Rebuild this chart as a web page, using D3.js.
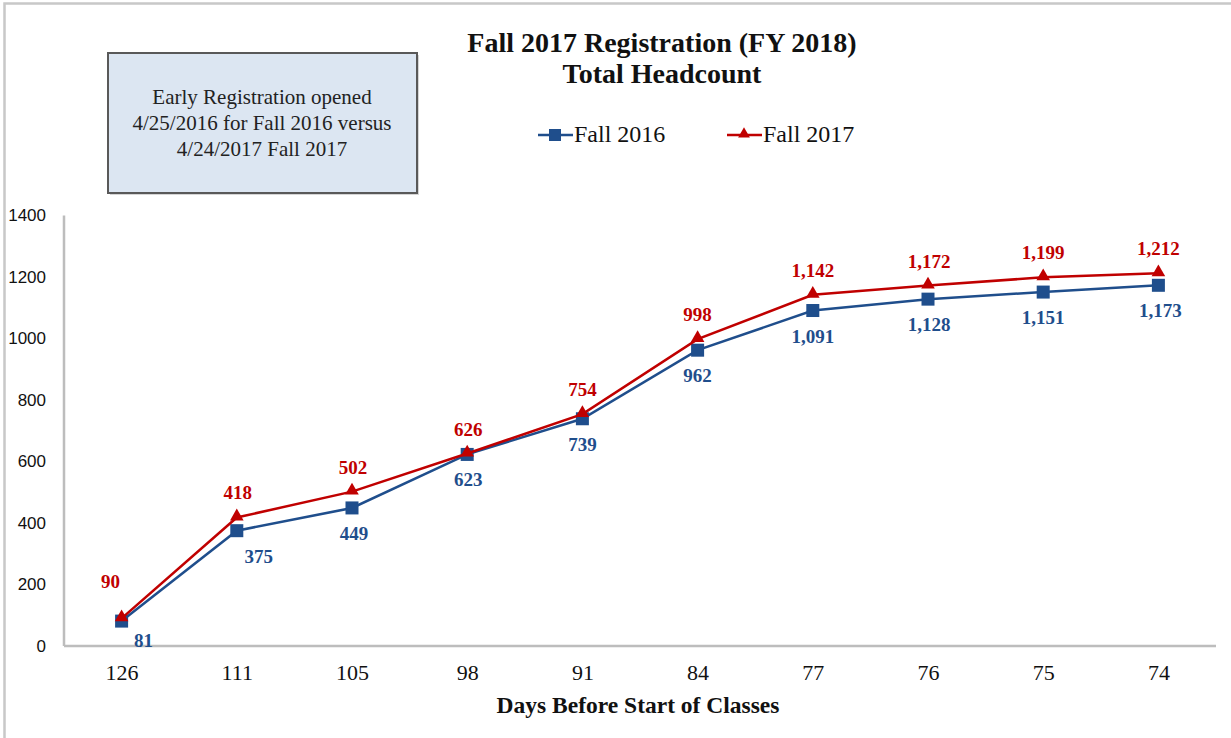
<!DOCTYPE html>
<html>
<head>
<meta charset="utf-8">
<script src="https://cdn.jsdelivr.net/npm/d3@7"></script>
<style>
  body { margin: 0; background: #fff; }
  text { font-family: "Liberation Serif", "Times New Roman", serif; }
</style>
</head>
<body>
<svg id="chart" width="1231" height="738"></svg>
<script>
// data
var days = ["126", "111", "105", "98", "91", "84", "77", "76", "75", "74"];
var fall2016 = [81, 375, 449, 623, 739, 962, 1091, 1128, 1151, 1173];
var fall2017 = [90, 418, 502, 626, 754, 998, 1142, 1172, 1199, 1212];
var yTicks = [0, 200, 400, 600, 800, 1000, 1200, 1400];

var blue = "#1f4e8c", red = "#c00000";

var svg = d3.select("#chart");
var margin = {top: 215.5, left: 64, right: 15, bottom: 92};
var width = 1231 - margin.left - margin.right,
    height = 738 - margin.top - margin.bottom;

// frame (only top and left visible)
svg.append("path")
  .attr("d", "M4.5,738 V3.5 H1231")
  .attr("fill", "none").attr("stroke", "#c8c8c8").attr("stroke-width", 2.5);

// title
var title = svg.append("text").attr("text-anchor", "middle")
  .attr("font-weight", "bold").attr("font-size", 28).attr("fill", "#111");
title.append("tspan").attr("x", 662).attr("y", 52).text("Fall 2017 Registration (FY 2018)");
title.append("tspan").attr("x", 662).attr("y", 83).text("Total Headcount");

// note box
svg.append("rect").attr("x", 110).attr("y", 55).attr("width", 309).attr("height", 140)
  .attr("fill", "#888").attr("opacity", 0.35);
svg.append("rect").attr("x", 108).attr("y", 53).attr("width", 309).attr("height", 140)
  .attr("fill", "#dce6f2").attr("stroke", "#595959").attr("stroke-width", 2);
var note = svg.append("text").attr("text-anchor", "middle").attr("font-size", 21).attr("fill", "#222");
["Early Registration opened", "4/25/2016 for Fall 2016 versus", "4/24/2017 Fall 2017"].forEach(function(t, i) {
  note.append("tspan").attr("x", 262).attr("y", 104 + i * 26).text(t);
});

var x = d3.scalePoint().domain(days).range([0, width]).padding(0.5);
var y = d3.scaleLinear().domain([0, 1400]).range([height, 0]);

var g = svg.append("g").attr("transform", "translate(" + margin.left + "," + margin.top + ")");

// axes
var xAxis = g.append("g").attr("transform", "translate(0," + height + ")")
  .call(d3.axisBottom(x).tickSize(0).tickPadding(18));
xAxis.select(".domain").attr("stroke", "#bdbdbd").attr("stroke-width", 2.5).attr("d", "M0,0H" + width);
xAxis.selectAll("text").attr("font-size", 22).attr("fill", "#111")
  .style("font-family", "'Liberation Serif', serif");

var yAxis = g.append("g")
  .call(d3.axisLeft(y).tickValues(yTicks).tickSize(0).tickPadding(18).tickFormat(d3.format("d")));
yAxis.select(".domain").attr("stroke", "#bdbdbd").attr("stroke-width", 2.5).attr("d", "M0," + height + "V0");
yAxis.selectAll("text").attr("font-size", 17).attr("fill", "#111")
  .style("font-family", "'Liberation Sans', sans-serif");

svg.append("text").attr("x", 638).attr("y", 713).attr("text-anchor", "middle")
  .attr("font-weight", "bold").attr("font-size", 23.5).attr("fill", "#111")
  .text("Days Before Start of Classes");

var line = d3.line()
  .x(function(d, i) { return x(days[i]); })
  .y(function(d) { return y(d); });

// Fall 2016
g.append("path").datum(fall2016).attr("d", line)
  .attr("fill", "none").attr("stroke", blue).attr("stroke-width", 2.5);
g.selectAll(".sq").data(fall2016).enter().append("rect")
  .attr("x", function(d, i) { return x(days[i]) - 6.5; })
  .attr("y", function(d) { return y(d) - 6.5; })
  .attr("width", 13).attr("height", 13).attr("fill", blue);

// Fall 2017
g.append("path").datum(fall2017).attr("d", line)
  .attr("fill", "none").attr("stroke", red).attr("stroke-width", 2.5);
var tri = d3.symbol().type(d3.symbolTriangle).size(80);
g.selectAll(".tri").data(fall2017).enter().append("path")
  .attr("d", tri)
  .attr("transform", function(d, i) { return "translate(" + x(days[i]) + "," + (y(d) - 1) + ")"; })
  .attr("fill", red);

// data labels
var fmt = d3.format(",");
var dx16 = [22, 22, 2, 1, 0, 0, 0, 1, 0, 2];
var dx17 = [-11, 1, 1, 1, 0, 0, 0, 1, 0, 0];
g.selectAll(".lb16").data(fall2016).enter().append("text")
  .attr("x", function(d, i) { return x(days[i]) + dx16[i]; })
  .attr("y", function(d, i) { return y(d) + (i === 0 ? 26 : 32); })
  .attr("text-anchor", "middle").attr("font-weight", "bold").attr("font-size", 19)
  .attr("fill", blue).text(fmt);
g.selectAll(".lb17").data(fall2017).enter().append("text")
  .attr("x", function(d, i) { return x(days[i]) + dx17[i]; })
  .attr("y", function(d, i) { return y(d) - (i === 0 ? 30 : 18); })
  .attr("text-anchor", "middle").attr("font-weight", "bold").attr("font-size", 19)
  .attr("fill", red).text(fmt);

// legend
var legend = [{name: "Fall 2016", color: blue, x: 538, m: "sq"}, {name: "Fall 2017", color: red, x: 727, m: "tri"}];
legend.forEach(function(l) {
  svg.append("line").attr("x1", l.x).attr("x2", l.x + 35).attr("y1", 135).attr("y2", 135)
    .attr("stroke", l.color).attr("stroke-width", 2.5);
  if (l.m === "sq") {
    svg.append("rect").attr("x", l.x + 11).attr("y", 129).attr("width", 12).attr("height", 12).attr("fill", l.color);
  } else {
    svg.append("path").attr("d", d3.symbol().type(d3.symbolTriangle).size(60))
      .attr("transform", "translate(" + (l.x + 17) + ",134)").attr("fill", l.color);
  }
  svg.append("text").attr("x", l.x + 36).attr("y", 142).attr("font-size", 24).attr("fill", "#111").text(l.name);
});
</script>
</body>
</html>
